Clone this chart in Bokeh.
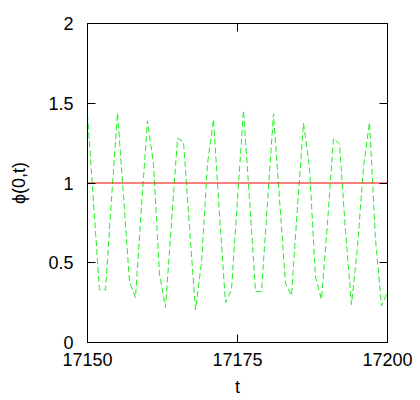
from bokeh.plotting import figure
from bokeh.models import LinearAxis, FixedTicker, Range1d
from bokeh.embed import file_html
from bokeh.resources import INLINE

# data
t_vals = list(range(17150, 17201))
phi_vals = [1.43, 0.88, 0.33, 0.33, 0.90, 1.44, 0.92, 0.38, 0.28, 0.85,
            1.39, 1.12, 0.43, 0.22, 0.75, 1.28, 1.26, 0.72, 0.205, 0.50,
            1.12, 1.40, 0.80, 0.25, 0.33, 0.90, 1.455, 0.90, 0.32, 0.32,
            0.88, 1.434, 0.90, 0.37, 0.295, 0.85, 1.375, 1.10, 0.41, 0.27,
            0.75, 1.28, 1.245, 0.70, 0.238, 0.60, 1.10, 1.38, 0.65, 0.23,
            0.315]
ref_t = [17150, 17200]
ref_phi = [1.0, 1.0]
x_ticks = [17150, 17175, 17200]
y_ticks = [0, 0.5, 1, 1.5, 2]
x_label = "t"
y_label = "ϕ(0,t)"

FONT = "Liberation Sans"
FS = "18px"

p = figure(width=420, height=400, output_backend="svg", toolbar_location=None,
           x_range=Range1d(17150, 17200), y_range=Range1d(0, 2),
           min_border_left=87, min_border_right=33, min_border_top=23,
           min_border_bottom=58)
p.outline_line_color = "black"
p.outline_line_width = 1
p.grid.visible = False
p.background_fill_color = "white"
p.border_fill_color = "white"

p.line(t_vals, phi_vals, line_color="#22ee22", line_width=1, line_dash="6 3")
p.line(ref_t, ref_phi, line_color="#ff0000", line_width=1)

def style(ax, ticks, show_labels=True):
    ax.ticker = FixedTicker(ticks=ticks)
    ax.major_tick_in = 8
    ax.major_tick_out = 0
    ax.minor_tick_line_color = None
    ax.axis_line_color = "black"
    ax.major_tick_line_color = "black"
    ax.major_label_text_font = FONT
    ax.major_label_text_font_size = FS if show_labels else "0px"
    ax.major_label_text_color = "black"
    ax.axis_label_text_font = FONT
    ax.axis_label_text_font_size = FS
    ax.axis_label_text_font_style = "normal"
    ax.axis_label_text_color = "black"

xa = p.xaxis[0]
style(xa, x_ticks)
xa.axis_label = x_label
xa.major_label_standoff = 10
xa.axis_label_standoff = 8

ya = p.yaxis[0]
style(ya, y_ticks)
ya.axis_label = y_label
ya.major_label_standoff = 14
ya.axis_label_standoff = 16

top = LinearAxis()
style(top, x_ticks, show_labels=False)
p.add_layout(top, "above")
right = LinearAxis()
style(right, y_ticks, show_labels=False)
p.add_layout(right, "right")

open("out.html", "w").write(file_html(p, INLINE))
